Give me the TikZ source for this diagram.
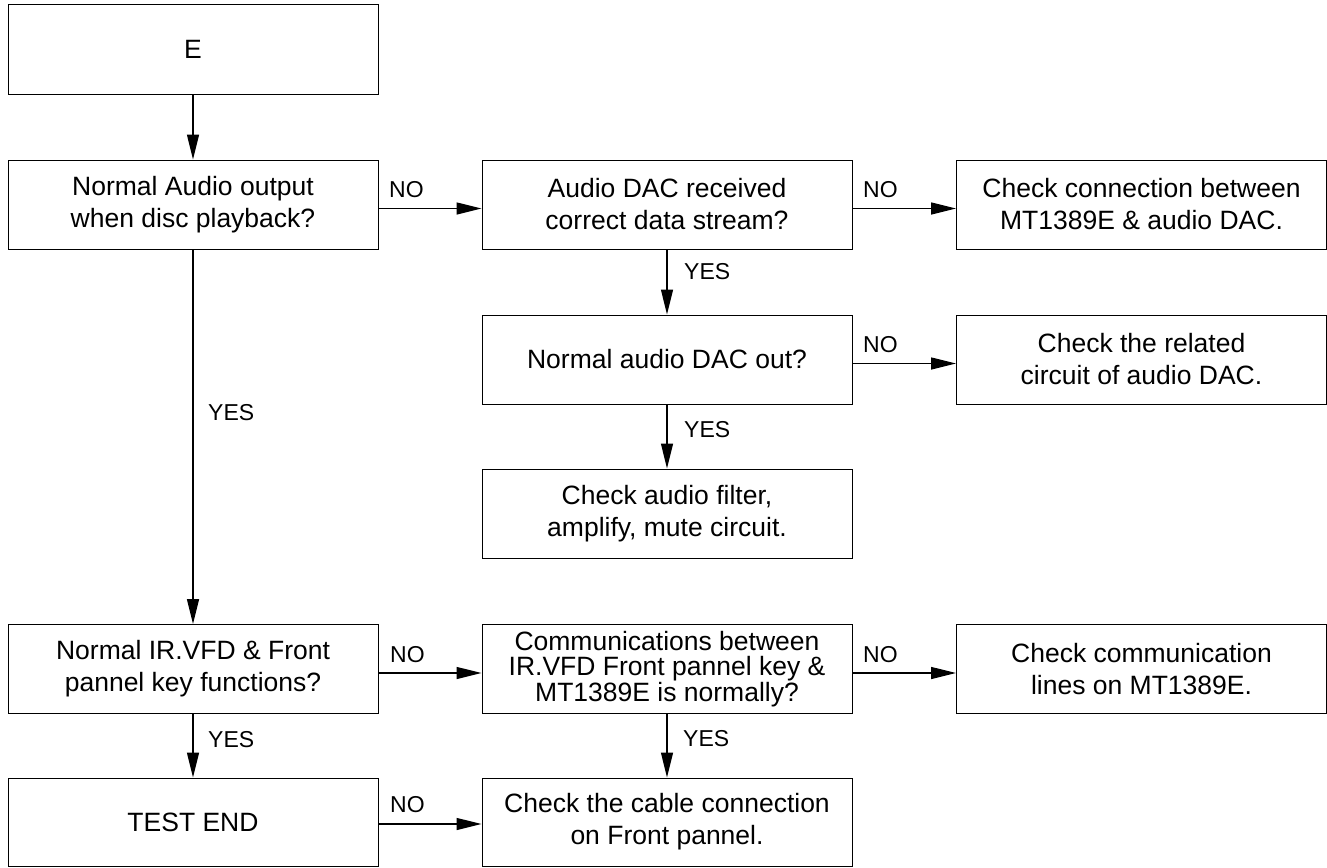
\documentclass[tikz,border=0pt]{standalone}
\usepackage{fontspec}
\setmainfont{Liberation Sans}
\usetikzlibrary{arrows.meta}
\begin{document}
\begin{tikzpicture}[x=1pt,y=-1pt,
 box/.style={draw, line width=1pt, minimum width=370pt, minimum height=89pt, align=center, inner sep=0pt, font=\fontsize{26.5}{32}\selectfont},
 tight/.style={font=\fontsize{26.5}{25.5}\selectfont},
 arr/.style={line width=1.3pt, -{Triangle[length=25pt,width=12pt]}},
 lbl/.style={font=\fontsize{23}{28}\selectfont, inner sep=0pt, anchor=west}]
\useasboundingbox (0,0) rectangle (1327,867);
% column centres 193, 667, 1141.5
\node[box] (e)    at (193,49.5)  {E};
\node[box] (na)   at (193,204.5) {Normal Audio output\\when disc playback?};
\node[box] (dac)  at (667,204.5) {Audio DAC received\\correct data stream?};
\node[box] (conn) at (1141.5,204.5) {Check connection between\\MT1389E \& audio DAC.};
\node[box] (out)  at (667,359.5) {Normal audio DAC out?};
\node[box] (rel)  at (1141.5,359.5) {Check the related\\circuit of audio DAC.};
\node[box] (filt) at (667,513.5) {Check audio filter,\\amplify, mute circuit.};
\node[box] (ir)   at (193,669) {Normal IR.VFD \& Front\\pannel key functions?};
\node[box,tight] (comm) at (667,669) {Communications between\\IR.VFD Front pannel key \&\\MT1389E is normally?};
\node[box] (lines) at (1141.5,669) {Check communication\\lines on MT1389E.};
\node[box, minimum height=88pt] (end) at (193,822) {TEST END};
\node[box, minimum height=88pt] (cable) at (667,822) {Check the cable connection\\on Front pannel.};
% connectors
\draw[arr] (e) -- (na);
\draw[arr] (na) -- (ir);
\draw[arr] ([yshift=-4pt]na.east) -- ([yshift=-4pt]dac.west);
\draw[arr] ([yshift=-4pt]dac.east) -- ([yshift=-4pt]conn.west);
\draw[arr] (dac) -- (out);
\draw[arr] ([yshift=-4pt]out.east) -- ([yshift=-4pt]rel.west);
\draw[arr] (out) -- (filt);
\draw[arr] ([yshift=-4pt]ir.east) -- ([yshift=-4pt]comm.west);
\draw[arr] ([yshift=-4pt]comm.east) -- ([yshift=-4pt]lines.west);
\draw[arr] (ir) -- (end);
\draw[arr] (comm) -- (cable);
\draw[arr] ([yshift=-2pt]end.east) -- ([yshift=-2pt]cable.west);
% labels
\node[lbl] (l1) at (389,190) {NO};
\node[lbl] (l2) at (863,190) {NO};
\node[lbl] (l3) at (684,272) {YES};
\node[lbl] (l4) at (863,345) {NO};
\node[lbl] (l5) at (684,430) {YES};
\node[lbl] (l6) at (208,413) {YES};
\node[lbl] (l7) at (390,655) {NO};
\node[lbl] (l8) at (863,655) {NO};
\node[lbl] (l9) at (208,740) {YES};
\node[lbl] (l10) at (683,739) {YES};
\node[lbl] (l11) at (390,805) {NO};
\end{tikzpicture}
\end{document}
